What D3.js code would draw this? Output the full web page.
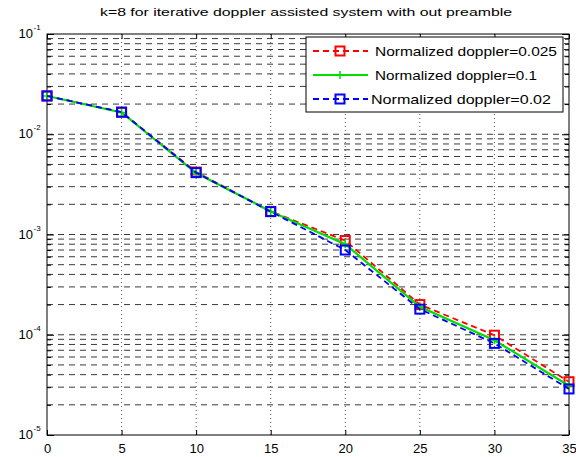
<!DOCTYPE html>
<html><head><meta charset="utf-8">
<script src="https://cdn.jsdelivr.net/npm/d3@7"></script>
<style>body{margin:0;background:#fff}svg{display:block}</style>
</head><body>
<svg id="c" width="576" height="457"></svg>
<script>
const snr = [0, 5, 10, 15, 20, 25, 30, 35];
const ber0025 = [0.0241, 0.0166, 0.0042, 0.0017, 8.7e-4, 2.0e-4, 9.9e-5, 3.4e-5];
const ber01 = [0.0241, 0.0165, 0.0041, 0.0017, 8.0e-4, 1.9e-4, 8.8e-5, 3.1e-5];
const ber002 = [0.0241, 0.0166, 0.00414, 0.00169, 7.0e-4, 1.8e-4, 8.2e-5, 2.88e-5];
const seriesNames = ["Normalized doppler=0.025", "Normalized doppler=0.1", "Normalized doppler=0.02"];
const xTicks = [0, 5, 10, 15, 20, 25, 30, 35];
const yExps = [-1, -2, -3, -4, -5];
const title = "k=8 for iterative doppler assisted system with out preamble";

const svg = d3.select("#c");
const L = 47, R = 569, T = 34, B = 435;
const x = d3.scaleLinear().domain([0, 35]).range([L, R]);
const y = d3.scaleLog().domain([1e-5, 1e-1]).range([B, T]);

// grid
const minor = [];
for (let e = -5; e < -1; e++) for (let m = 1; m < 10; m++) minor.push(m * Math.pow(10, e));
minor.push(0.1);
const g = svg.append("g");
g.selectAll("line.h").data(minor.filter(v => v > 1e-5 && v < 0.1)).join("line")
  .attr("x1", L).attr("x2", R).attr("y1", d => y(d)).attr("y2", d => y(d))
  .attr("stroke", "#3a3a3a").attr("stroke-width", 1).attr("stroke-dasharray", "6,5");
g.selectAll("line.v").data(xTicks.slice(1, -1)).join("line")
  .attr("x1", d => x(d)).attr("x2", d => x(d)).attr("y1", T).attr("y2", B)
  .attr("stroke", "#555").attr("stroke-width", 1).attr("stroke-dasharray", "1,3");

// axes box & ticks
svg.append("rect").attr("x", L).attr("y", T).attr("width", R - L).attr("height", B - T)
  .attr("fill", "none").attr("stroke", "#000").attr("stroke-width", 1);
const bottomAxis = d3.axisBottom(x).tickValues(xTicks).tickSize(-5).tickPadding(9).tickFormat(d3.format("d"));
const ga = svg.append("g").attr("transform", `translate(0,${B})`).call(bottomAxis);
ga.select(".domain").remove();
ga.selectAll("text").attr("font-family", "Liberation Sans").attr("font-size", 13).attr("fill", "#000");
const topAxis = d3.axisTop(x).tickValues(xTicks).tickSize(-5).tickFormat("");
const gt = svg.append("g").attr("transform", `translate(0,${T})`).call(topAxis);
gt.select(".domain").remove();
const isMajor = d => Math.abs(Math.log10(d) - Math.round(Math.log10(d))) < 1e-9;
const leftAxis = d3.axisLeft(y).tickValues(minor).tickSize(-4).tickFormat("");
const gl = svg.append("g").attr("transform", `translate(${L},0)`).call(leftAxis);
gl.select(".domain").remove();
gl.selectAll(".tick line").attr("x2", d => isMajor(d) ? 7 : 4);
const rightAxis = d3.axisRight(y).tickValues(minor).tickSize(-4).tickFormat("");
const gr = svg.append("g").attr("transform", `translate(${R},0)`).call(rightAxis);
gr.select(".domain").remove();
gr.selectAll(".tick line").attr("x2", d => isMajor(d) ? -7 : -4);

// y labels 10^e
const yl = svg.append("g").attr("font-family", "Liberation Sans").attr("fill", "#000");
yExps.forEach(e => {
  yl.append("text").attr("x", 33).attr("y", y(Math.pow(10, e)) + 4)
    .attr("text-anchor", "end").attr("font-size", 13).text("10");
  yl.append("text").attr("x", 33.5).attr("y", y(Math.pow(10, e)) - 4)
    .attr("font-size", 8).text("-" + Math.abs(e));
});

// title
svg.append("text").attr("x", (L + R) / 2 - 2).attr("y", 16).attr("text-anchor", "middle")
  .attr("font-family", "Liberation Sans").attr("font-size", 11.5).attr("fill", "#000")
  .attr("textLength", 412).attr("lengthAdjust", "spacingAndGlyphs").text(title);

// series
const line = d3.line().x((d, i) => x(snr[i])).y(d => y(d));
const series = [
  {v: ber0025, color: "#ff0000", dash: "6,4", marker: "sq"},
  {v: ber01, color: "#00dd00", dash: null, marker: "plus"},
  {v: ber002, color: "#0000ff", dash: "6,4", marker: "sq"}
];
const sg = svg.append("g");
function marker(sel, s, cx, cy) {
  if (s.marker === "sq") {
    sel.append("rect").attr("x", cx - 4.5).attr("y", cy - 4.5).attr("width", 9).attr("height", 9)
      .attr("fill", "none").attr("stroke", s.color).attr("stroke-width", 2);
  } else {
    sel.append("path").attr("d", `M${cx - 4},${cy}H${cx + 4}M${cx},${cy - 4}V${cy + 4}`)
      .attr("stroke", s.color).attr("stroke-width", 1.5);
  }
}
series.forEach(s => {
  sg.append("path").datum(s.v).attr("d", line).attr("fill", "none")
    .attr("stroke", s.color).attr("stroke-width", s.dash ? 1.8 : 2.2)
    .attr("stroke-dasharray", s.dash);
  s.v.forEach((d, i) => marker(sg, s, x(snr[i]), y(d)));
});

// legend
const lg = svg.append("g");
const lx = 306, ly = 37, lw = 257, lh = 75;
lg.append("rect").attr("x", lx).attr("y", ly).attr("width", lw).attr("height", lh)
  .attr("fill", "#fff").attr("stroke", "#000").attr("stroke-width", 1);
const rowsY = [51, 75, 99];
series.forEach((s, i) => {
  const yy = rowsY[i];
  lg.append("line").attr("x1", 313).attr("x2", 368).attr("y1", yy).attr("y2", yy)
    .attr("stroke", s.color).attr("stroke-width", s.dash ? 1.8 : 2.2).attr("stroke-dasharray", s.dash);
  marker(lg, s, 340, yy);
  lg.append("text").attr("x", i === 2 ? 371 : 375).attr("y", yy + 4.5)
    .attr("font-family", "Liberation Sans").attr("font-size", 13).attr("fill", "#000")
    .attr("textLength", i === 0 ? 182 : (i === 1 ? 162 : 180)).attr("lengthAdjust", "spacingAndGlyphs")
    .text(seriesNames[i]);
});
</script>
</body></html>
